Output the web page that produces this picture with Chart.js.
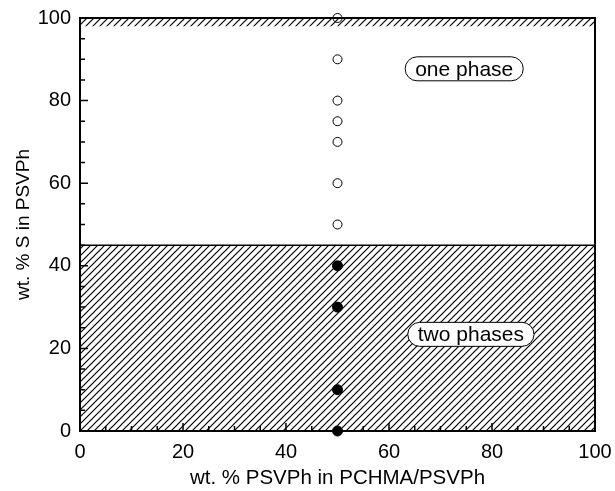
<!DOCTYPE html>
<html>
<head>
<meta charset="utf-8">
<script src="https://cdn.jsdelivr.net/npm/chart.js@4.4.0/dist/chart.umd.min.js"></script>
<style>
  html, body { margin: 0; padding: 0; background: #fff; }
  #wrap { width: 615px; height: 491px; }
</style>
</head>
<body>
<div id="wrap"><canvas id="chart"></canvas></div>
<script>
// data
const xOpen = [50, 50, 50, 50, 50, 50, 50];
const yOpen = [100, 90, 80, 75, 70, 60, 50];      // one phase
const xFilled = [50, 50, 50, 50];
const yFilled = [40, 30, 10, 0];                   // two phases
const boundaryTwo = [45, 45];                      // two-phase region up to 45
const boundaryTop = [98, 98];                      // thin band near 100
const boundaryX = [0, 100];
const labels = ['one phase', 'two phases'];
const labelX = [74.6, 75.9];
const labelY = [87.7, 23.4];

const FONT = '"Liberation Sans", Arial, sans-serif';

function hatch() {
  const c = document.createElement('canvas');
  c.width = 7; c.height = 7;
  const g = c.getContext('2d');
  g.strokeStyle = '#000';
  g.lineWidth = 1.2;
  g.beginPath();
  g.moveTo(-1, 8); g.lineTo(8, -1);
  g.moveTo(-4.5, 4.5); g.lineTo(4.5, -4.5);
  g.moveTo(2.5, 11.5); g.lineTo(11.5, 2.5);
  g.stroke();
  return g.createPattern(c, 'repeat');
}
const pat = hatch();

const frame = {
  id: 'frame',
  afterDatasetsDraw(chart) {
    const { ctx, chartArea: a, scales: { x, y } } = chart;
    ctx.save();
    // inward ticks
    ctx.strokeStyle = '#000';
    ctx.lineWidth = 1.5;
    for (let v = 0; v <= 100; v += 5) {
      const len = v % 20 === 0 ? 8 : 5;
      const px = x.getPixelForValue(v);
      const py = y.getPixelForValue(v);
      ctx.beginPath();
      ctx.moveTo(px, a.bottom); ctx.lineTo(px, a.bottom - len);
      ctx.moveTo(a.left, py); ctx.lineTo(a.left + len, py);
      ctx.stroke();
    }
    // frame
    ctx.lineWidth = 2;
    ctx.strokeRect(a.left, a.top, a.right - a.left, a.bottom - a.top);
    // region labels
    ctx.font = '21px ' + FONT;
    ctx.textAlign = 'center';
    ctx.textBaseline = 'middle';
    labels.forEach((t, i) => {
      const cx = x.getPixelForValue(labelX[i]);
      const cy = y.getPixelForValue(labelY[i]);
      const w = ctx.measureText(t).width + 20;
      const h = 24;
      ctx.beginPath();
      ctx.roundRect(cx - w / 2, cy - h / 2, w, h, h / 2);
      ctx.fillStyle = '#fff';
      ctx.fill();
      ctx.lineWidth = 1;
      ctx.stroke();
      ctx.fillStyle = '#000';
      ctx.fillText(t, cx, cy + 1);
    });
    ctx.restore();
  }
};

new Chart(document.getElementById('chart'), {
  type: 'scatter',
  data: {
    datasets: [
      {
        type: 'line',
        data: boundaryX.map((v, i) => ({ x: v, y: boundaryTwo[i] })),
        borderColor: '#000', borderWidth: 1.5,
        backgroundColor: pat, fill: 'origin',
        pointRadius: 0
      },
      {
        type: 'line',
        data: boundaryX.map((v, i) => ({ x: v, y: boundaryTop[i] })),
        borderWidth: 0, borderColor: 'rgba(0,0,0,0)',
        backgroundColor: pat, fill: 'end',
        pointRadius: 0
      },
      {
        data: xOpen.map((v, i) => ({ x: v, y: yOpen[i] })),
        pointRadius: 4.5, pointBorderWidth: 1,
        pointBorderColor: '#000', pointBackgroundColor: '#fff'
      },
      {
        data: xFilled.map((v, i) => ({ x: v, y: yFilled[i] })),
        pointRadius: 5, pointBorderWidth: 1,
        pointBorderColor: '#000', pointBackgroundColor: '#000'
      }
    ]
  },
  options: {
    responsive: true,
    maintainAspectRatio: false,
    animation: false,
    clip: false,
    layout: { padding: { top: 18, right: 20, left: 0, bottom: 0 } },
    plugins: { legend: { display: false }, tooltip: { enabled: false } },
    scales: {
      x: {
        type: 'linear', min: 0, max: 100,
        afterFit: s => { s.height = 60; s.paddingLeft = 0; s.paddingRight = 0; },
        grid: { display: false, drawTicks: false },
        border: { display: false },
        ticks: {
          stepSize: 5, padding: 9, color: '#000', maxRotation: 0, autoSkip: false,
          font: { family: FONT, size: 20 },
          callback: v => (v % 20 === 0 ? v : '')
        },
        title: {
          display: true, text: 'wt. % PSVPh in PCHMA/PSVPh', color: '#000',
          font: { family: FONT, size: 20.5 }, padding: { top: 4, bottom: 0 }
        }
      },
      y: {
        type: 'linear', min: 0, max: 100,
        afterFit: s => { s.width = 80; s.paddingTop = 0; s.paddingBottom = 0; },
        grid: { display: false, drawTicks: false },
        border: { display: false },
        ticks: {
          stepSize: 5, padding: 9, color: '#000', autoSkip: false,
          font: { family: FONT, size: 20 },
          callback: v => (v % 20 === 0 ? v : '')
        },
        title: {
          display: true, text: 'wt. % S in PSVPh', color: '#000',
          font: { family: FONT, size: 19 }, padding: { top: 12, bottom: 0 }
        }
      }
    }
  },
  plugins: [frame]
});
</script>
</body>
</html>
